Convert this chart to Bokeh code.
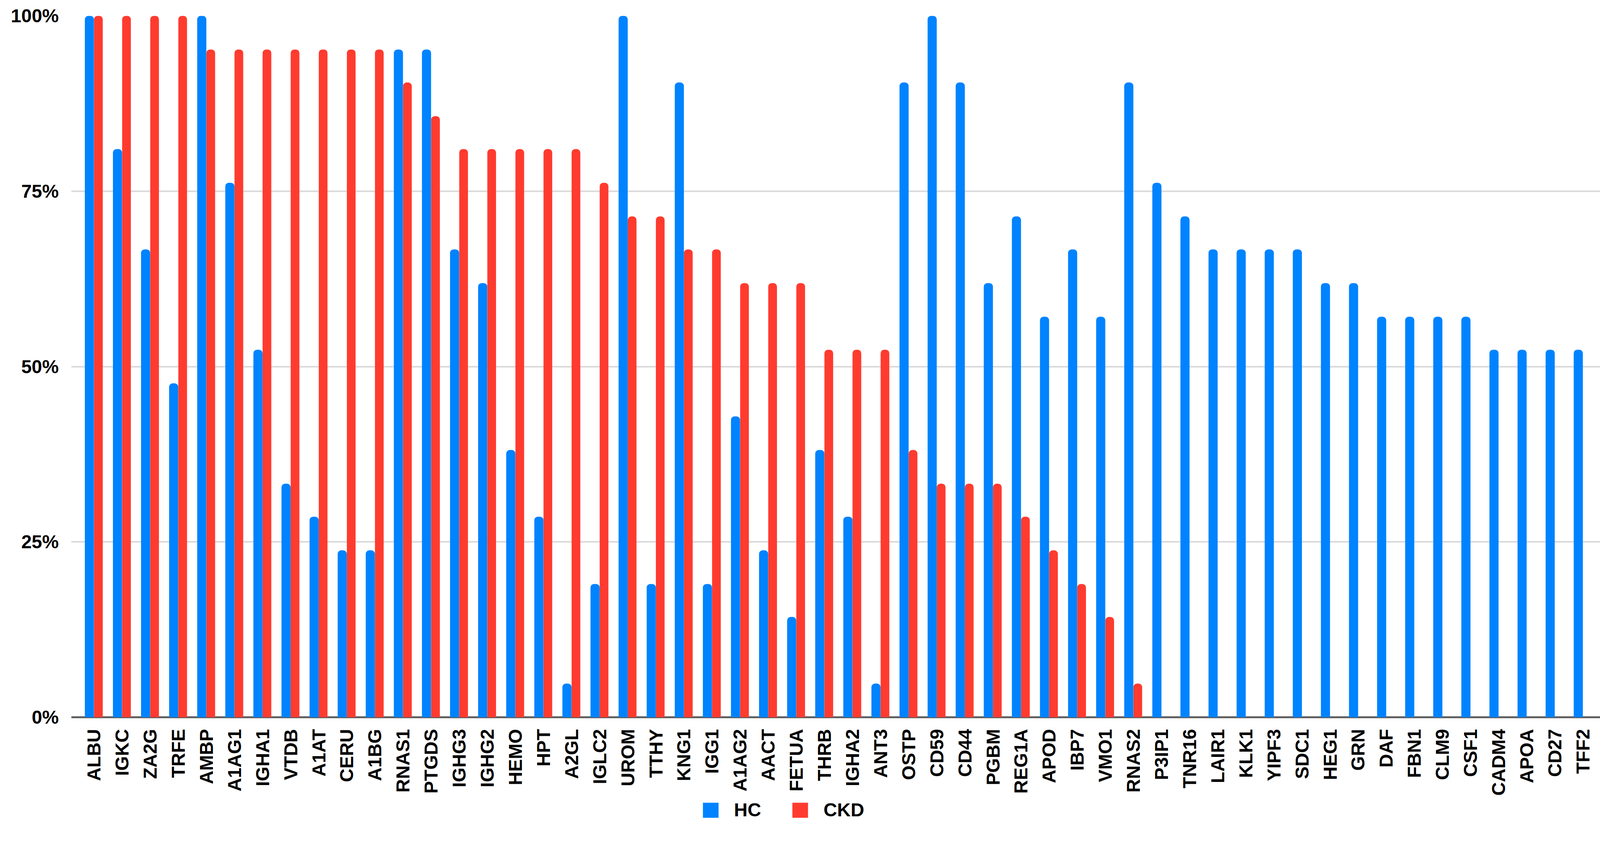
from bokeh.plotting import figure
from bokeh.models import (FactorRange, Range1d, FixedTicker, PrintfTickFormatter, Span,
                          Legend, LegendItem, ColumnDataSource)
from bokeh.transform import dodge
from bokeh.embed import file_html
from bokeh.resources import INLINE
import math

proteins = ["ALBU", "IGKC", "ZA2G", "TRFE", "AMBP", "A1AG1", "IGHA1", "VTDB", "A1AT", "CERU",
            "A1BG", "RNAS1", "PTGDS", "IGHG3", "IGHG2", "HEMO", "HPT", "A2GL", "IGLC2", "UROM",
            "TTHY", "KNG1", "IGG1", "A1AG2", "AACT", "FETUA", "THRB", "IGHA2", "ANT3", "OSTP",
            "CD59", "CD44", "PGBM", "REG1A", "APOD", "IBP7", "VMO1", "RNAS2", "P3IP1", "TNR16",
            "LAIR1", "KLK1", "YIPF3", "SDC1", "HEG1", "GRN", "DAF", "FBN1", "CLM9", "CSF1",
            "CADM4", "APOA", "CD27", "TFF2"]

hc = [100, 81.0, 66.7, 47.6, 100, 76.2, 52.4, 33.3, 28.6, 23.8,
      23.8, 95.2, 95.2, 66.7, 61.9, 38.1, 28.6, 4.8, 19.0, 100,
      19.0, 90.5, 19.0, 42.9, 23.8, 14.3, 38.1, 28.6, 4.8, 90.5,
      100, 90.5, 61.9, 71.4, 57.1, 66.7, 57.1, 90.5, 76.2, 71.4,
      66.7, 66.7, 66.7, 66.7, 61.9, 61.9, 57.1, 57.1, 57.1, 57.1,
      52.4, 52.4, 52.4, 52.4]

ckd = [100, 100, 100, 100, 95.2, 95.2, 95.2, 95.2, 95.2, 95.2,
       95.2, 90.5, 85.7, 81.0, 81.0, 81.0, 81.0, 81.0, 76.2, 71.4,
       71.4, 66.7, 66.7, 61.9, 61.9, 61.9, 52.4, 52.4, 52.4, 38.1,
       33.3, 33.3, 33.3, 28.6, 23.8, 19.0, 14.3, 4.8, 0, 0,
       0, 0, 0, 0, 0, 0, 0, 0, 0, 0,
       0, 0, 0, 0]

y_ticks = [0, 25, 50, 75, 100]

BLUE = "#0083FF"
RED = "#FF3B2F"
FONT = "Liberation Sans"

src_hc = ColumnDataSource(dict(x=[p for p, v in zip(proteins, hc) if v > 0],
                               v=[v for v in hc if v > 0]))
src_ckd = ColumnDataSource(dict(x=[p for p, v in zip(proteins, ckd) if v > 0],
                                v=[v for v in ckd if v > 0]))

# the frame reaches down to the bottom of the page; the 0 % line sits where the
# reference has it and the category axis is pinned to y = 0
p = figure(width=4130, height=2170, output_backend="svg", toolbar_location=None,
           x_range=FactorRange(factors=proteins, range_padding=0.31, range_padding_units="absolute"),
           y_range=Range1d(-18.44, 100),
           min_border_left=182, min_border_right=20, min_border_top=40, min_border_bottom=4)
p.outline_line_color = None
p.background_fill_color = "white"
p.border_fill_color = "white"

r_hc = p.vbar(x=dodge("x", -0.165, range=p.x_range), top="v", bottom=0, width=0.325,
              source=src_hc, fill_color=BLUE, line_color=None, border_radius=(9, 9, 0, 0))
r_ckd = p.vbar(x=dodge("x", 0.155, range=p.x_range), top="v", bottom=0, width=0.31,
               source=src_ckd, fill_color=RED, line_color=None, border_radius=(9, 9, 0, 0))

p.xgrid.grid_line_color = None
p.ygrid.ticker = FixedTicker(ticks=y_ticks)
p.ygrid.grid_line_color = "#D9D9D9"
p.ygrid.grid_line_width = 4

base = Span(location=0, dimension="width", line_color="#616161", line_width=5, level="underlay")
p.add_layout(base)

p.yaxis.ticker = FixedTicker(ticks=y_ticks)
p.yaxis.formatter = PrintfTickFormatter(format="%d%%")
p.yaxis.axis_line_color = None
p.yaxis.major_tick_line_color = None
p.yaxis.minor_tick_line_color = None
p.yaxis.major_tick_out = 0
p.yaxis.major_label_standoff = 32
p.yaxis.major_label_text_font = FONT
p.yaxis.major_label_text_font_style = "bold"
p.yaxis.major_label_text_font_size = "48px"
p.yaxis.major_label_text_color = "#000000"

xax = p.xaxis[0]
xax.fixed_location = 0
xax.axis_line_color = None
xax.major_tick_line_color = None
xax.minor_tick_line_color = None
xax.major_tick_out = 0
xax.major_label_standoff = 30
xax.major_label_orientation = math.pi / 2
xax.major_label_text_font = FONT
xax.major_label_text_font_style = "bold"
xax.major_label_text_font_size = "48px"
xax.major_label_text_color = "#000000"

legend = Legend(items=[LegendItem(label="HC", renderers=[r_hc]),
                       LegendItem(label="CKD", renderers=[r_ckd])],
                orientation="horizontal", location=(1612, 66),
                glyph_width=50, glyph_height=48, label_standoff=35, spacing=75,
                padding=0, margin=0, border_line_color=None, background_fill_alpha=0,
                label_text_font=FONT, label_text_font_style="bold",
                label_text_font_size="48px", label_text_color="#000000")
p.add_layout(legend, "center")

open("out.html", "w").write(file_html(p, INLINE))
